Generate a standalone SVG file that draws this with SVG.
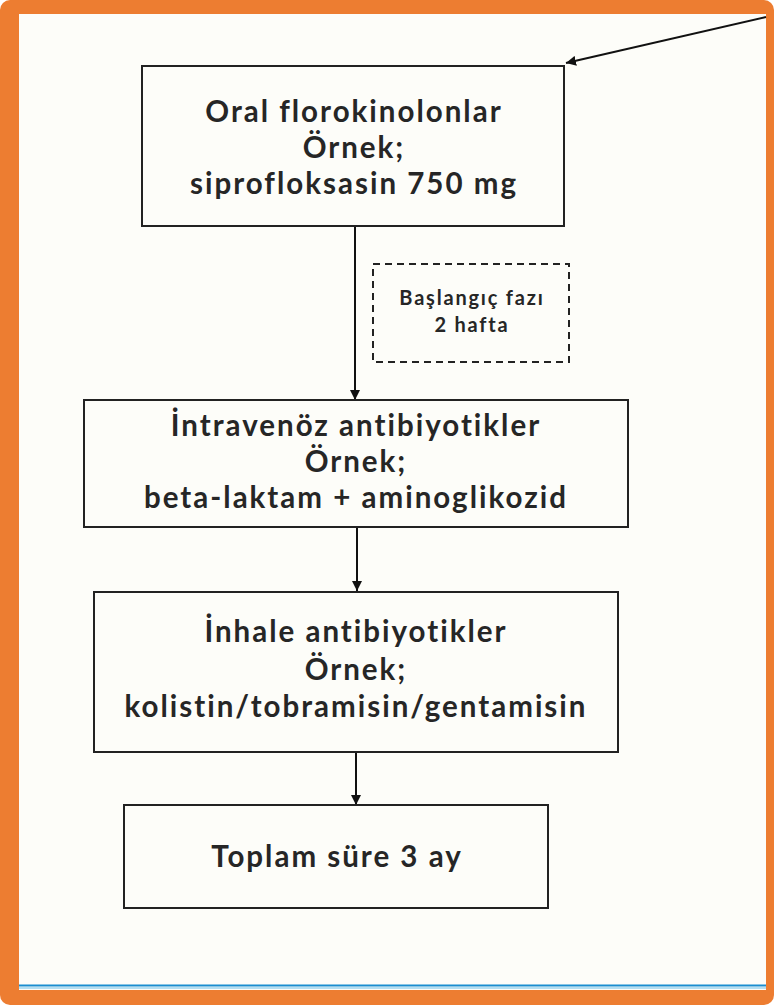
<svg xmlns="http://www.w3.org/2000/svg" width="774" height="1005" viewBox="0 0 774 1005">
<defs>
<style>
.box{fill:none;stroke:#222;stroke-width:2}
.dash{fill:none;stroke:#222;stroke-width:2;stroke-dasharray:7 5}
.t{font-family:Lato,"Open Sans","Liberation Sans",sans-serif;font-weight:700;fill:#262626;text-anchor:middle;font-size:29.5px;letter-spacing:2px;font-variant-ligatures:none}
.s{font-family:Lato,"Open Sans","Liberation Sans",sans-serif;font-weight:700;fill:#262626;text-anchor:middle;font-size:20px;letter-spacing:1.8px;font-variant-ligatures:none}
.c{stroke:#111;stroke-width:2;fill:none;marker-end:url(#ah)}
</style>
<marker id="ah" viewBox="0 0 10 10" refX="10" refY="5" markerWidth="10" markerHeight="10" markerUnits="userSpaceOnUse" orient="auto">
<path d="M0,0 L10,5 L0,10 z" fill="#111"/>
</marker>
</defs>
<rect x="0" y="0" width="774" height="1005" rx="10" fill="#ED7D31"/>
<rect x="19" y="14" width="747" height="976" fill="#FDFDF9"/>
<line x1="19" y1="985.5" x2="766" y2="985.5" stroke="#1B8ED0" stroke-width="2"/>
<line x1="19" y1="988" x2="766" y2="988" stroke="#9BD3EE" stroke-width="1.5"/>
<g id="connectors">
<path class="c" d="M766,17 L566,63"/>
<path class="c" d="M355,227 L355,400"/>
<path class="c" d="M357,527 L357,591"/>
<path class="c" d="M356,752 L356,805"/>
</g>
<g id="n1">
<rect class="box" x="142" y="66" width="422" height="160"/>
<text class="t" x="354" y="122">Oral florokinolonlar</text>
<text class="t" x="354" y="158">Örnek;</text>
<text class="t" x="354" y="194">siprofloksasin 750 mg</text>
</g>
<g id="n2">
<rect class="dash" x="373" y="264" width="196" height="98"/>
<text class="s" x="472" y="305">Başlangıç fazı</text>
<text class="s" x="472" y="332">2 hafta</text>
</g>
<g id="n3">
<rect class="box" x="84" y="400" width="544" height="127"/>
<text class="t" x="356" y="436">İntravenöz antibiyotikler</text>
<text class="t" x="356" y="472">Örnek;</text>
<text class="t" x="356" y="508">beta-laktam + aminoglikozid</text>
</g>
<g id="n4">
<rect class="box" x="94" y="592" width="524" height="160"/>
<text class="t" x="356" y="642">İnhale antibiyotikler</text>
<text class="t" x="356" y="680">Örnek;</text>
<text class="t" x="356" y="717">kolistin/tobramisin/gentamisin</text>
</g>
<g id="n5">
<rect class="box" x="124" y="805" width="424" height="103"/>
<text class="t" x="337" y="867">Toplam süre 3 ay</text>
</g>
</svg>
